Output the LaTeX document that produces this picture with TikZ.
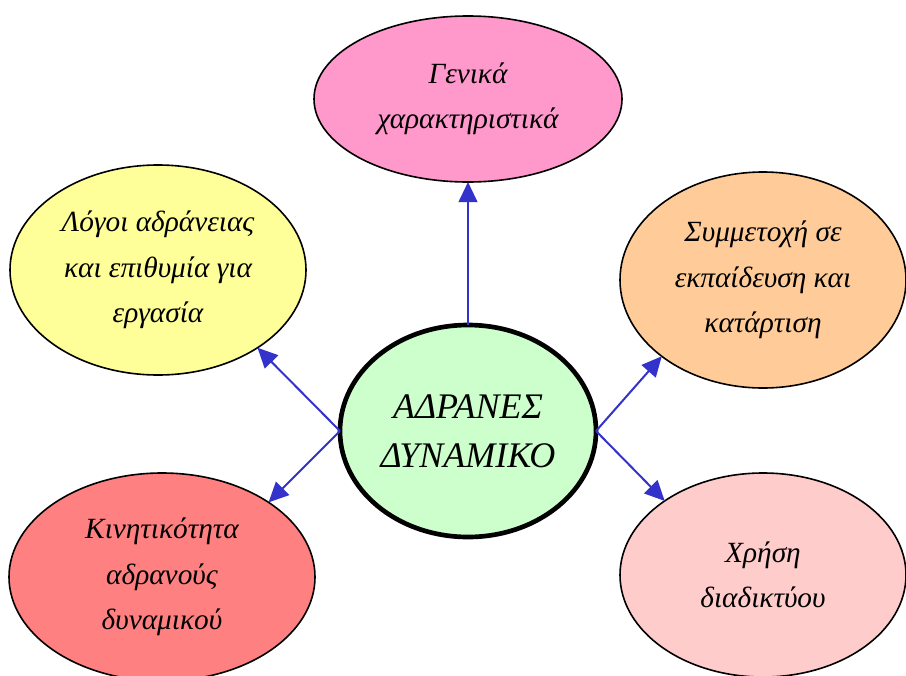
\documentclass[tikz,border=0pt]{standalone}
\usepackage{fontspec}
\setmainfont{Liberation Serif}
\usetikzlibrary{shapes,arrows.meta,positioning}
\definecolor{hubgreen}{RGB}{204,255,204}
\definecolor{generalpink}{RGB}{255,153,204}
\definecolor{reasonyellow}{RGB}{255,255,153}
\definecolor{trainorange}{RGB}{255,204,153}
\definecolor{mobilityred}{RGB}{255,128,128}
\definecolor{netpink}{RGB}{255,204,204}
\definecolor{arrowblue}{RGB}{51,51,204}
\begin{document}
\begin{tikzpicture}[
    x=0.75pt, y=-0.75pt,
    every node/.style={font=\itshape\fontsize{22}{34}\selectfont},
    bubble/.style={ellipse, draw=black, line width=1.2pt, align=center, inner sep=0pt, outer sep=0pt},
    arrow/.style={-{Triangle[length=15pt,width=14pt]}, line width=1.5pt, color=arrowblue}
]
\useasboundingbox (0,0) rectangle (906,675);

% Centre
\node[bubble, fill=hubgreen, line width=3.5pt, minimum width=192pt, minimum height=159pt, font=\itshape\fontsize{27}{37}\selectfont] (hub) at (468,431) {ΑΔΡΑΝΕΣ\\ΔΥΝΑΜΙΚΟ};

% Top
\node[bubble, fill=generalpink, minimum width=231pt, minimum height=124.5pt, above=107.25pt of hub] (general) {Γενικά\\χαρακτηριστικά};

% Left side
\node[bubble, fill=reasonyellow, minimum width=222pt, minimum height=157.5pt, left=25.5pt of hub, yshift=120.75pt] (reasons) {Λόγοι αδράνειας\\και επιθυμία για\\εργασία};
\node[bubble, fill=mobilityred, minimum width=229.5pt, minimum height=156pt, left=18.75pt of hub, yshift=-109.5pt] (mobility) {Κινητικότητα\\αδρανούς\\δυναμικού};

% Right side
\node[bubble, fill=trainorange, minimum width=214.5pt, minimum height=162pt, right=18pt of hub, yshift=113.25pt] (training) {Συμμετοχή σε\\εκπαίδευση και\\κατάρτιση};
\node[bubble, fill=netpink, minimum width=214.5pt, minimum height=153pt, right=18pt of hub, yshift=-108pt] (internet) {Χρήση\\διαδικτύου};

% Connections
\draw[arrow] (hub.north) -- (general.south);
\draw[arrow] (hub.west) -- (reasons.-38);
\draw[arrow] (hub.west) -- (mobility.35);
\draw[arrow] (hub.east) -- (training.-143);
\draw[arrow] (hub.east) -- (internet.143);

\end{tikzpicture}
\end{document}
